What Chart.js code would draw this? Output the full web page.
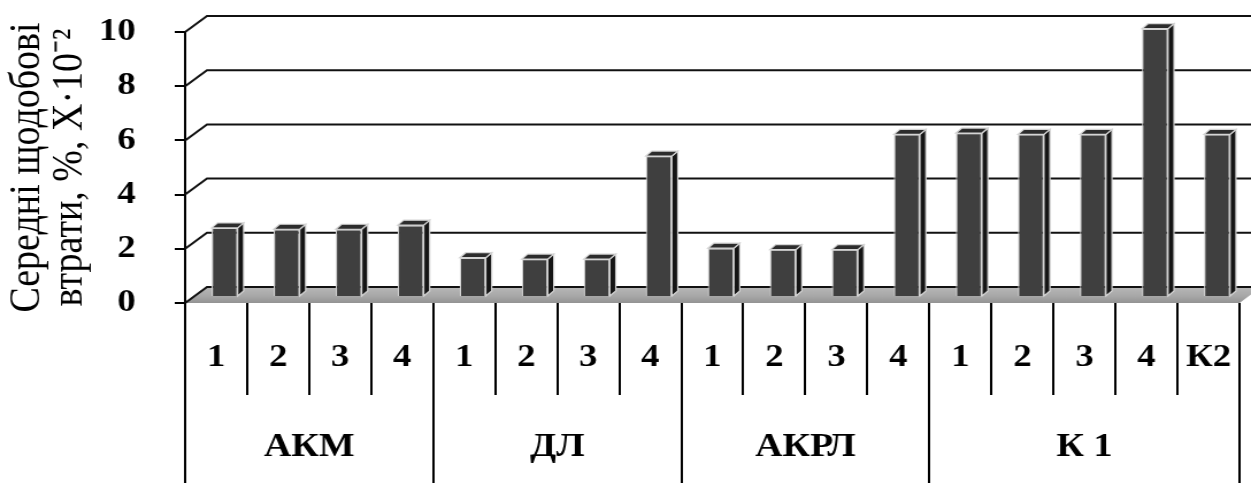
<!DOCTYPE html>
<html>
<head>
<meta charset="utf-8">
<script src="https://cdn.jsdelivr.net/npm/chart.js@4.4.1/dist/chart.umd.min.js"></script>
<style>
  html, body { margin: 0; padding: 0; background: #fff; overflow: hidden; }
</style>
</head>
<body>
<!-- the drawing surface is a bit narrower than the page and is widened by CSS -->
<canvas id="c" width="1088" height="483" style="display:block;width:1251px;height:483px"></canvas>
<script>
// ---- data ----
const groups = ['АКМ', 'ДЛ', 'АКРЛ', 'К 1'];
const groupSpans = [4, 4, 4, 5];
const categories = ['1', '2', '3', '4', '1', '2', '3', '4', '1', '2', '3', '4', '1', '2', '3', '4', 'К2'];
const losses = [2.55, 2.5, 2.5, 2.65, 1.45, 1.4, 1.4, 5.2, 1.8, 1.75, 1.75, 6.0, 6.05, 6.0, 6.0, 9.9, 6.0];
const yTicks = [0, 2, 4, 6, 8, 10];
const yTitle = ['Середні щодобові', 'втрати, %, Х·10⁻²'];

// ---- look ----
const SERIF = '"Liberation Serif", "Times New Roman", serif';
const DEPTH_X = 19, DEPTH_Y = 16;      // back wall offset from the front plane
const BAR_DX = 7.4, BAR_DY = 6;        // bars stand half way into the floor
const SIDE_X = 5.2, SIDE_Y = 5;        // visible depth of each column
const ROW1_BOTTOM = 395, GROUP_LABEL_Y = 447;

const frame3d = {
  id: 'frame3d',
  beforeDatasetsDraw(chart) {
    const { ctx, chartArea: a, scales: { y } } = chart;
    const W = chart.width;
    ctx.save();
    // floor
    const y0 = y.getPixelForValue(0);
    const floorGrad = ctx.createLinearGradient(0, y0 - DEPTH_Y, 0, y0);
    floorGrad.addColorStop(0, '#b8b8b8');
    floorGrad.addColorStop(0.6, '#a6a6a6');
    floorGrad.addColorStop(1, '#939393');
    ctx.fillStyle = floorGrad;
    ctx.beginPath();
    ctx.moveTo(a.left, y0);
    ctx.lineTo(a.right, y0);
    ctx.lineTo(a.right + DEPTH_X, y0 - DEPTH_Y);
    ctx.lineTo(a.left + DEPTH_X, y0 - DEPTH_Y);
    ctx.closePath();
    ctx.fill();
    // back wall grid lines with their slanted side-wall segments
    ctx.strokeStyle = '#111';
    ctx.lineWidth = 2;
    yTicks.forEach(v => {
      const py = y.getPixelForValue(v);
      ctx.beginPath();
      ctx.moveTo(a.left, py);
      ctx.lineTo(a.left + DEPTH_X, py - DEPTH_Y);
      ctx.lineTo(W + 5, py - DEPTH_Y);
      ctx.stroke();
    });
    ctx.restore();
    // columns are drawn slightly shifted into depth
    ctx.save();
    ctx.translate(BAR_DX, -BAR_DY);
  },
  afterDatasetsDraw(chart) {
    const { ctx } = chart;
    ctx.restore();
    ctx.save();
    ctx.lineWidth = 1.2;
    ctx.strokeStyle = '#d4d4d4';
    chart.getDatasetMeta(0).data.forEach(bar => {
      const p = bar.getProps(['x', 'y', 'base', 'width']);
      const left = p.x - p.width / 2 + BAR_DX;
      const right = p.x + p.width / 2 + BAR_DX;
      const top = p.y - BAR_DY;
      const bottom = p.base - BAR_DY;
      // side face
      ctx.fillStyle = '#151515';
      ctx.beginPath();
      ctx.moveTo(right, top);
      ctx.lineTo(right + SIDE_X, top - SIDE_Y);
      ctx.lineTo(right + SIDE_X, bottom - SIDE_Y);
      ctx.lineTo(right, bottom);
      ctx.closePath();
      ctx.fill();
      ctx.stroke();
      // top face
      ctx.fillStyle = '#2c2c2c';
      ctx.beginPath();
      ctx.moveTo(left, top);
      ctx.lineTo(left + SIDE_X, top - SIDE_Y);
      ctx.lineTo(right + SIDE_X, top - SIDE_Y);
      ctx.lineTo(right, top);
      ctx.closePath();
      ctx.fill();
      ctx.stroke();
    });
    ctx.restore();
  },
  afterDraw(chart) {
    const { ctx, chartArea: a, scales: { x } } = chart;
    const H = chart.height;
    const step = x.getPixelForValue(1) - x.getPixelForValue(0);
    const edge = i => x.getPixelForValue(0) - step / 2 + i * step;
    const groupEdges = [0];
    groupSpans.forEach(n => groupEdges.push(groupEdges[groupEdges.length - 1] + n));
    ctx.save();
    ctx.strokeStyle = '#000';
    ctx.lineWidth = 2;
    for (let i = 0; i <= categories.length; i++) {
      const px = Math.round(edge(i));
      const long = groupEdges.includes(i);
      ctx.beginPath();
      ctx.moveTo(px, a.bottom);
      ctx.lineTo(px, long ? H : ROW1_BOTTOM);
      ctx.stroke();
    }
    ctx.fillStyle = '#000';
    ctx.font = 'bold 33px ' + SERIF;
    ctx.textAlign = 'center';
    ctx.textBaseline = 'middle';
    groups.forEach((g, k) => {
      const cxm = (edge(groupEdges[k]) + edge(groupEdges[k + 1])) / 2;
      ctx.fillText(g, cxm, GROUP_LABEL_Y);
    });
    ctx.restore();
  }
};

new Chart(document.getElementById('c'), {
  type: 'bar',
  data: {
    labels: categories,
    datasets: [{
      data: losses,
      backgroundColor: '#3f3f3f',
      borderColor: '#d4d4d4',
      borderWidth: 1.2,
      barPercentage: 0.42,
      categoryPercentage: 1,
      clip: false
    }]
  },
  options: {
    responsive: false,
    devicePixelRatio: 1,
    animation: false,
    events: [],
    layout: { padding: { left: 0, right: 10, top: 32, bottom: 0 } },
    plugins: { legend: { display: false }, tooltip: { enabled: false } },
    scales: {
      x: {
        type: 'category',
        offset: true,
        grid: { display: false, drawTicks: false },
        border: { display: false },
        ticks: {
          font: { family: SERIF, size: 32, weight: 'bold' },
          color: '#000', padding: 36, maxRotation: 0, autoSkip: false
        },
        afterFit: s => {
          s.height = 180;
          s.paddingLeft = 0; s.paddingRight = 0;
        }
      },
      y: {
        min: 0, max: 10,
        afterBuildTicks: s => { s.ticks = yTicks.map(v => ({ value: v })); },
        ticks: {
          font: { family: SERIF, size: 32, weight: 'bold' },
          color: '#000', padding: 34
        },
        grid: { drawOnChartArea: false, drawTicks: true, tickLength: 9, color: '#000', lineWidth: 2 },
        border: { display: true, color: '#000', width: 2 },
        title: {
          display: true, text: yTitle, color: '#000',
          font: { family: SERIF, size: 38, lineHeight: 0.98 },
          padding: { top: 5, bottom: 0 }
        },
        afterFit: s => {
          s.width = 161;
          s.paddingTop = 0; s.paddingBottom = 0;
        }
      }
    }
  },
  plugins: [frame3d]
});
</script>
</body>
</html>
